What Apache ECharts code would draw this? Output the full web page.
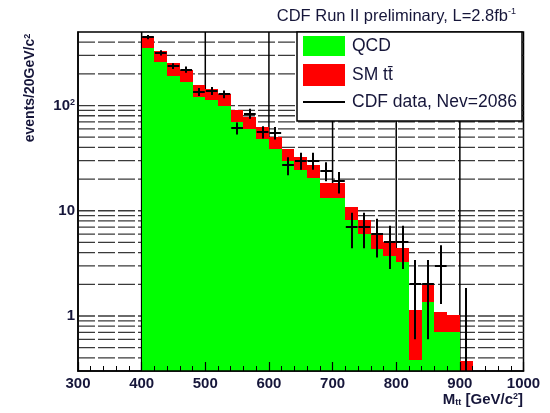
<!DOCTYPE html>
<html>
<head>
<meta charset="utf-8">
<script src="https://cdn.jsdelivr.net/npm/echarts@6/dist/echarts.min.js"></script>
<style>
html, body { margin: 0; padding: 0; background: #fff; }
#chart { width: 550px; height: 413px; }
</style>
</head>
<body>
<div id="chart"></div>
<script>
// Lower edges of the invariant-mass bins (GeV/c^2); every bin is 20 GeV wide
const binLow = [400, 420, 440, 460, 480, 500, 520, 540, 560, 580, 600, 620, 640,
                660, 680, 700, 720, 740, 760, 780, 800, 820, 840, 860, 880, 900];
const binWidth = 20;

// QCD multijet expectation per bin
const qcd = [349, 257, 190, 167, 120, 113, 99, 70, 60, 48, 38.5, 29.6, 24.3,
             20.4, 13.2, 13.1, 8.1, 6.0, 4.3, 3.7, 3.27, 0.38, 1.36, 0.71, 0.71, 0];
// Standard Model ttbar expectation, stacked on top of QCD
const ttbar = [103, 74, 61, 53, 36, 32, 31, 20, 18, 15, 11.5, 9.4, 8.2,
               6.7, 5.1, 5.1, 2.8, 2.1, 1.56, 1.36, 1.11, 0.75, 0.6, 0.38, 0.31, 0.37];
// Observed events per bin and their statistical uncertainties
const dataCounts = [447, 317, 237, 220, 135, 138, 128, 61, 84, 56, 55, 27, 30,
                    30, 24, 19, 7, 7, 6, 5, 5, 2, 2, 3, null, 0];
const dataErr = [21, 18, 15, 15, 12, 12, 11, 8, 9, 7.5, 7.4, 5.2, 5.5,
                 5.5, 4.9, 4.4, 2.6, 2.6, 2.4, 2.2, 2.2, 1.4, 1.4, 1.7, null, 1.84];

// Axis ranges, labelled ticks and grid lines
const X_MIN = 300, X_MAX = 1000, X_STEP = 100;
const Y_MIN = 0.3, Y_MAX = 500;
const yLabelValues = [1, 10, 100];
const xGridValues = [400, 500, 600, 700, 800, 900];
const logGridValues = [0.4, 0.5, 0.6, 0.7, 0.8, 0.9, 1, 2, 3, 4, 5, 6, 7, 8, 9,
                       10, 20, 30, 40, 50, 60, 70, 80, 90, 100, 200, 300, 400];

const FONT = 'Liberation Sans, Arial, Helvetica, sans-serif';
const TEXT = '#16163a';

const chart = echarts.init(document.getElementById('chart'), null, { renderer: 'canvas' });

const histData = binLow.map((lo, i) => [lo, lo + binWidth, qcd[i], ttbar[i]]);
const pointData = binLow.map((lo, i) => [lo, lo + binWidth,
  dataCounts[i] === null ? NaN : dataCounts[i],
  dataErr[i] === null ? NaN : dataErr[i]]);

function yLabel(v) {
  for (const t of yLabelValues) {
    if (Math.abs(v - t) < 1e-6 * t) {
      return t === 100 ? '{m|10}{s|2}' : '{m|' + t + '}';
    }
  }
  return '';
}

const px = Math.round;

const option = {
  animation: false,
  backgroundColor: '#fff',
  grid: {
    left: 78, right: 26.5, top: 32, bottom: 42,
    show: true, borderColor: '#000', borderWidth: 1.5, backgroundColor: '#fff'
  },
  xAxis: {
    type: 'value', min: X_MIN, max: X_MAX, interval: X_STEP, z: 10,
    axisLine: { show: true, onZero: false, lineStyle: { color: '#000', width: 1.5 } },
    axisTick: { show: true, inside: true, length: 9, lineStyle: { color: '#000', width: 1.2 } },
    minorTick: { show: true, splitNumber: 5, length: 5, lineStyle: { color: '#000', width: 1 } },
    axisLabel: { margin: 5, color: TEXT, fontFamily: FONT, fontWeight: 'bold', fontSize: 15,
                 formatter: v => String(v) },
    splitLine: { show: false }
  },
  yAxis: {
    type: 'log', logBase: 10, min: Y_MIN, max: Y_MAX, z: 10,
    axisLine: { show: true, lineStyle: { color: '#000', width: 1.5 } },
    axisTick: { show: false },
    axisLabel: {
      margin: 3, color: TEXT, formatter: yLabel,
      rich: {
        m: { fontFamily: FONT, fontWeight: 'bold', fontSize: 15, color: TEXT },
        s: { fontFamily: FONT, fontWeight: 'bold', fontSize: 9, color: TEXT, verticalAlign: 'top' }
      }
    },
    splitLine: { show: false }
  },
  series: [
    {
      // dashed horizontal grid at every log subdivision
      type: 'custom', z: 1, silent: true,
      data: logGridValues.map(v => [X_MIN, v]),
      renderItem: (params, api) => {
        const v = api.value(1);
        const p0 = api.coord([X_MIN, v]);
        const p1 = api.coord([X_MAX, v]);
        return {
          type: 'line',
          shape: { x1: p0[0], y1: p0[1], x2: p1[0], y2: p1[1] },
          style: { stroke: '#3a3a3a', lineWidth: 1.3, lineDash: [17, 3] }
        };
      }
    },
    {
      // solid vertical grid at the labelled mass values
      type: 'custom', z: 1, silent: true,
      data: xGridValues.map(v => [v, Y_MIN]),
      renderItem: (params, api) => {
        const v = api.value(0);
        const p0 = api.coord([v, Y_MIN]);
        const p1 = api.coord([v, Y_MAX]);
        return {
          type: 'line',
          shape: { x1: p0[0], y1: p0[1], x2: p1[0], y2: p1[1] },
          style: { stroke: '#000', lineWidth: 1.5 }
        };
      }
    },
    {
      // stacked histogram: QCD (green) with ttbar (red) on top
      name: 'histogram', type: 'custom', z: 2, silent: true,
      data: histData,
      encode: { x: [0, 1], y: 2 },
      renderItem: (params, api) => {
        const lo = api.value(0), hi = api.value(1);
        const q = api.value(2), t = api.value(3);
        const cs = params.coordSys;
        const bottom = px(cs.y + cs.height);
        const xl = px(api.coord([lo, Y_MAX])[0]);
        const xr = px(api.coord([hi, Y_MAX])[0]);
        const children = [];
        const yTot = px(Math.max(api.coord([lo, q + t])[1], cs.y));
        if (yTot < bottom) {
          children.push({ type: 'rect', shape: { x: xl, y: yTot, width: xr - xl, height: bottom - yTot },
                          style: { fill: '#ff0000' } });
        }
        if (q > 0) {
          const yq = px(Math.max(api.coord([lo, q])[1], cs.y));
          if (yq < bottom) {
            children.push({ type: 'rect', shape: { x: xl, y: yq, width: xr - xl, height: bottom - yq },
                            style: { fill: '#00ff00' } });
          }
        }
        return { type: 'group', children };
      }
    },
    {
      // observed data with error bars
      name: 'data', type: 'custom', z: 3, silent: true,
      data: pointData,
      encode: { x: [0, 1], y: 2 },
      renderItem: (params, api) => {
        const lo = api.value(0), hi = api.value(1);
        const n = api.value(2), e = api.value(3);
        if (isNaN(e)) return null;
        const cs = params.coordSys;
        const bottom = cs.y + cs.height;
        const xc = px(api.coord([(lo + hi) / 2, Y_MAX])[0]);
        const yUp = Math.max(api.coord([lo, n + e])[1], cs.y);
        const yDn = (n - e) > Y_MIN ? api.coord([lo, n - e])[1] : bottom;
        const children = [{
          type: 'line', shape: { x1: xc, y1: yUp, x2: xc, y2: yDn },
          style: { stroke: '#000', lineWidth: 2 }
        }];
        if (n > 0) {
          const y = px(api.coord([lo, n])[1]);
          const xl = api.coord([lo, n])[0] + 0.5;
          const xr = api.coord([hi, n])[0] - 0.5;
          children.push({ type: 'line', shape: { x1: xl, y1: y, x2: xr, y2: y },
                          style: { stroke: '#000', lineWidth: 2 } });
        }
        return { type: 'group', children };
      }
    }
  ],
  graphic: [
    // legend box
    { type: 'rect', z: 100, shape: { x: 297, y: 32, width: 225, height: 89 },
      style: { fill: '#fff', stroke: '#000', lineWidth: 1.5 } },
    { type: 'rect', z: 101, shape: { x: 303, y: 36, width: 42, height: 20 }, style: { fill: '#00ff00' } },
    { type: 'rect', z: 101, shape: { x: 303, y: 64, width: 42, height: 22 }, style: { fill: '#ff0000' } },
    { type: 'line', z: 101, shape: { x1: 303, y1: 102, x2: 345, y2: 102 }, style: { stroke: '#000', lineWidth: 2 } },
    { type: 'text', z: 101, x: 352, y: 46,
      style: { text: 'QCD', font: '17.5px ' + FONT, fill: TEXT, verticalAlign: 'middle' } },
    { type: 'text', z: 101, x: 352, y: 75,
      style: { text: 'SM t\u0074\u0304', font: '17.5px ' + FONT, fill: TEXT, verticalAlign: 'middle' } },
    { type: 'text', z: 101, x: 352, y: 102,
      style: { text: 'CDF data, Nev=2086', font: '17.5px ' + FONT, fill: TEXT, verticalAlign: 'middle' } },
    // plot label
    { type: 'text', z: 101, x: 516, y: 16,
      style: {
        text: '{a|CDF Run II preliminary, L=2.8fb}{s|-1}', align: 'right', verticalAlign: 'middle',
        rich: {
          a: { fontFamily: FONT, fontSize: 16.5, fill: TEXT, color: TEXT },
          s: { fontFamily: FONT, fontSize: 9, fill: TEXT, color: TEXT, verticalAlign: 'top' }
        }
      } },
    // x-axis title
    { type: 'text', z: 101, x: 523, y: 400,
      style: {
        text: '{a|M}{b|tt}{a| [GeV/c}{s|2}{a|]}', align: 'right', verticalAlign: 'middle',
        rich: {
          a: { fontFamily: FONT, fontSize: 15, fontWeight: 'bold', fill: TEXT, color: TEXT },
          b: { fontFamily: FONT, fontSize: 9, fontWeight: 'bold', fill: TEXT, color: TEXT, verticalAlign: 'bottom' },
          s: { fontFamily: FONT, fontSize: 9, fontWeight: 'bold', fill: TEXT, color: TEXT, verticalAlign: 'top' }
        }
      } },
    // y-axis title
    { type: 'text', z: 101, x: 30, y: 88, rotation: Math.PI / 2,
      style: {
        text: '{a|events/20GeV/c}{s|2}', align: 'center', verticalAlign: 'middle',
        rich: {
          a: { fontFamily: FONT, fontSize: 14, fontWeight: 'bold', fill: TEXT, color: TEXT },
          s: { fontFamily: FONT, fontSize: 9, fontWeight: 'bold', fill: TEXT, color: TEXT, verticalAlign: 'top' }
        }
      } }
  ]
};

chart.setOption(option);
</script>
</body>
</html>
